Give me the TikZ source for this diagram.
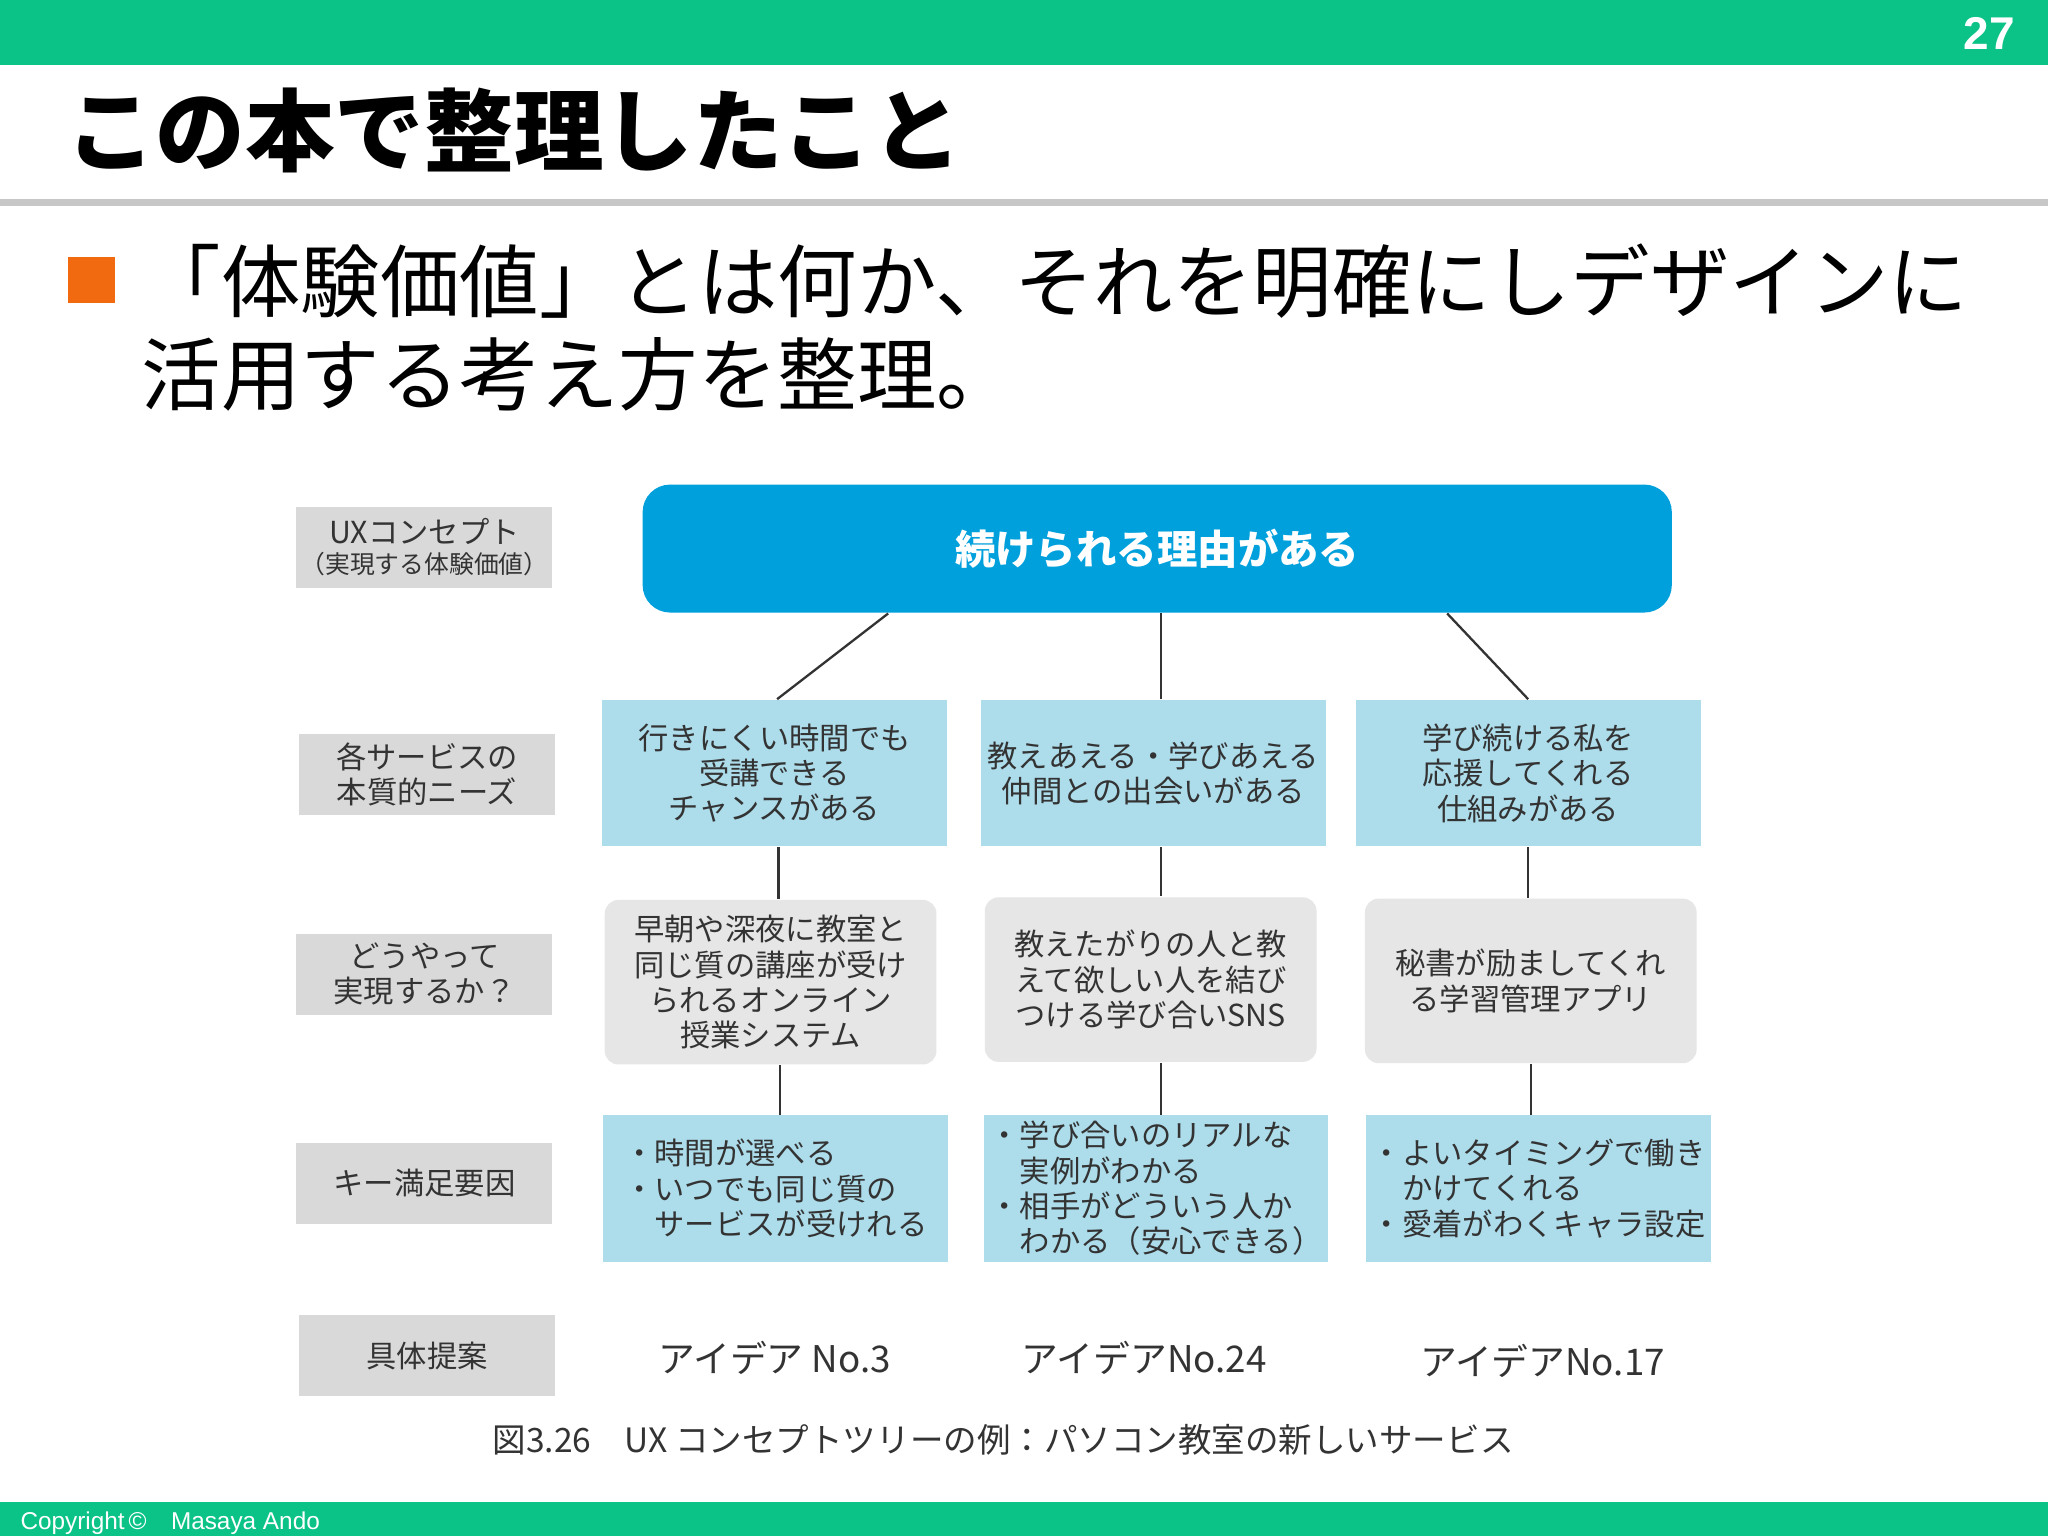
\documentclass[tikz,border=0pt]{standalone}
\usepackage{fontspec}
\setmainfont{Noto Sans CJK JP}
\newfontfamily\jp{Noto Sans CJK JP}
\newfontfamily\sans{Liberation Sans}
\usetikzlibrary{calc}
\definecolor{grn}{HTML}{0BC387}
\definecolor{org}{HTML}{F26A10}
\definecolor{topblue}{HTML}{00A0DC}
\definecolor{lblue}{HTML}{ADDCEB}
\definecolor{lgray}{HTML}{D9D9D9}
\definecolor{rgray}{HTML}{E6E6E6}
\definecolor{txt}{HTML}{333333}
\tikzset{
 lab/.style={fill=lgray,draw=none,minimum width=196*0.01cm,minimum height=62*0.01cm,align=center,font=\fontsize{6.6}{7.6}\selectfont,text=txt,inner sep=0pt},
 bl/.style={fill=lblue,draw=none,minimum width=264*0.01cm,minimum height=112*0.01cm,align=center,font=\fontsize{6.6}{7.7}\selectfont,text=txt,inner sep=0pt},
 gr/.style={fill=rgray,draw=none,rounded corners=3pt,minimum width=254*0.01cm,minimum height=126*0.01cm,align=center,font=\fontsize{6.6}{7.7}\selectfont,text=txt,inner sep=0pt},
 idea/.style={font=\fontsize{8}{9}\selectfont,text=txt},
 con/.style={draw=txt,line width=0.5pt},
}
\begin{document}
\begin{tikzpicture}[x=0.01cm,y=-0.01cm]
\useasboundingbox (0,0) rectangle (1568,1176);
\fill[white] (0,0) rectangle (1568,1176);
\fill[grn] (0,0) rectangle (1568,50);
\node[text=white,font=\sans\bfseries\fontsize{10}{10}\selectfont,anchor=east] (pg) at (1555,26) {27};
\node[anchor=west,font=\bfseries\fontsize{19.5}{20}\selectfont,inner sep=0pt] (title) at (50,100) {この本で整理したこと};
\fill[lgray!80!gray] (0,152) rectangle (1568,158);
\fill[org] (52,197) rectangle (88,232);
\node[anchor=west,font=\fontsize{17.3}{20}\selectfont,inner sep=0pt] (b1) at (108,215) {「体験価値」とは何か、それを明確にしデザインに};
\node[anchor=west,font=\fontsize{17.3}{20}\selectfont,inner sep=0pt] (b2) at (108,287) {活用する考え方を整理。};
\fill[grn] (0,1150) rectangle (1568,1176);
\node[anchor=west,text=white,font=\sans\fontsize{5.3}{6}\selectfont,inner sep=0pt] (copy) at (15,1166) {Copyright\,©\quad Masaya Ando};

\node[lab] (l1) at (325,419) {UXコンセプト\\[-1pt]{\fontsize{5.4}{6}\selectfont（実現する体験価値）}};
\node[lab] (l2) at (327,593) {各サービスの\\本質的ニーズ};
\node[lab] (l3) at (325,746) {どうやって\\実現するか？};
\node[lab] (l4) at (325,906) {キー満足要因};
\node[lab] (l5) at (327,1038) {具体提案};

\node[fill=topblue,rounded corners=6pt,minimum width=788*0.01cm,minimum height=98*0.01cm,text=white,font=\bfseries\fontsize{8.8}{10}\selectfont] (top) at (886,420) {続けられる理由がある};

\node[bl] (a1) at (593,592) {行きにくい時間でも\\受講できる\\チャンスがある};
\node[bl] (a2) at (883,592) {教えあえる・学びあえる\\仲間との出会いがある};
\node[bl] (a3) at (1170,592) {学び続ける私を\\応援してくれる\\仕組みがある};

\node[gr] (b1n) at (590,752) {早朝や深夜に教室と\\同じ質の講座が受け\\られるオンライン\\授業システム};
\node[gr] (b2n) at (881,750) {教えたがりの人と教\\えて欲しい人を結び\\つける学び合いSNS};
\node[gr] (b3n) at (1172,751) {秘書が励ましてくれ\\る学習管理アプリ};

\node[bl,align=left] (c1) at (594,910) {・時間が選べる\\・いつでも同じ質の\\\phantom{・}サービスが受けれる};
\node[bl,align=left] (c2) at (885,910) {・学び合いのリアルな\\\phantom{・}実例がわかる\\・相手がどういう人か\\\phantom{・}わかる（安心できる）};
\node[bl,align=left] (c3) at (1178,910) {・よいタイミングで働き\\\phantom{・}かけてくれる\\・愛着がわくキャラ設定};

\node[idea] (d1) at (593,1040) {アイデア No.3};
\node[idea] (d2) at (876,1040) {アイデアNo.24};
\node[idea] (d3) at (1181,1042) {アイデアNo.17};
\node[font=\fontsize{7.3}{8}\selectfont,text=txt] (cap) at (768,1102) {図3.26　UX コンセプトツリーの例：パソコン教室の新しいサービス};

\draw[con] (top.south -| 680,0) -- (a1.north -| 595,0);
\draw[con] (top.south -| 889,0) -- (a2.north -| 889,0);
\draw[con] (top.south -| 1108,0) -- (a3.north -| 1170,0);
\draw[con] (a1.south -| 596,0) -- (b1n.north -| 596,0);
\draw[con] (a2.south -| 889,0) -- (b2n.north -| 889,0);
\draw[con] (a3.south -| 1170,0) -- (b3n.north -| 1170,0);
\draw[con] (b1n.south -| 597,0) -- (c1.north -| 597,0);
\draw[con] (b2n.south -| 889,0) -- (c2.north -| 889,0);
\draw[con] (b3n.south -| 1172,0) -- (c3.north -| 1172,0);
\end{tikzpicture}
\end{document}
